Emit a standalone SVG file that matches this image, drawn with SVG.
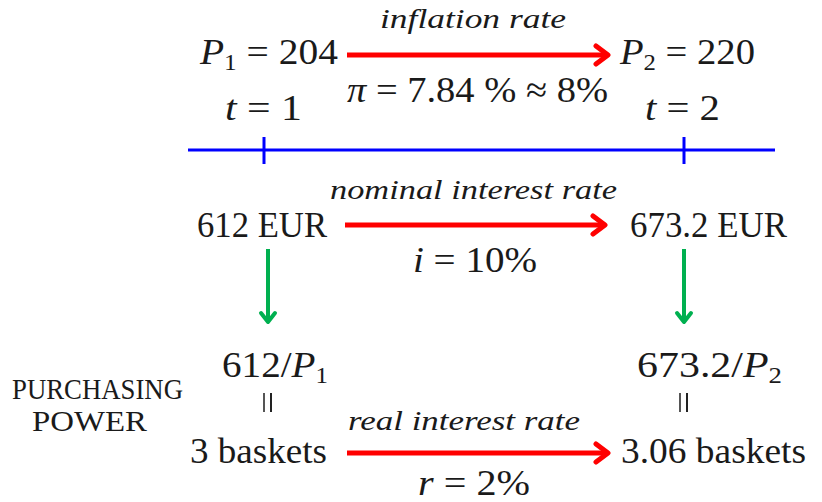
<svg xmlns="http://www.w3.org/2000/svg" width="822" height="502" viewBox="0 0 822 502">
<style>
  .t { font-family: "Liberation Serif", "DejaVu Serif", serif; fill: #1a1a1a; }
  .m { font-size: 36px; }
  .lab { font-size: 28px; font-style: italic; }
  .it { font-style: italic; }
  .sub { font-size: 23px; }
  .side { font-size: 29px; }
  .red { stroke: #FF0000; stroke-width: 5; fill: none; }
  .grn { stroke: #00B050; stroke-width: 4; fill: none; }
  .axis { stroke: #0000FF; stroke-width: 3; fill: none; }
</style>
<defs>
  <marker id="rh" markerUnits="userSpaceOnUse" viewBox="-16 -12 20 24" refX="0" refY="0" markerWidth="20" markerHeight="24" orient="auto">
    <path d="M-12,-9 L0,0 L-12,9" fill="none" stroke="#FF0000" stroke-width="5" stroke-linecap="round" stroke-linejoin="round"/>
  </marker>
  <marker id="gh" markerUnits="userSpaceOnUse" viewBox="-12 -10 16 20" refX="0" refY="0" markerWidth="16" markerHeight="20" orient="auto">
    <path d="M-9,-7 L0,0 L-9,7" fill="none" stroke="#00B050" stroke-width="4" stroke-linecap="round" stroke-linejoin="round"/>
  </marker>
</defs>

<g id="timeline">
  <line class="axis" x1="188" y1="150" x2="775" y2="150"/>
  <line class="axis" x1="264" y1="137" x2="264" y2="164"/>
  <line class="axis" x1="684" y1="137" x2="684" y2="164"/>
</g>

<g id="connectors">
  <line class="red" x1="347" y1="55" x2="608" y2="55" marker-end="url(#rh)"/>
  <line class="red" x1="345" y1="225" x2="605" y2="225" marker-end="url(#rh)"/>
  <line class="red" x1="347" y1="453" x2="608" y2="453" marker-end="url(#rh)"/>
  <line class="grn" x1="268" y1="249" x2="268" y2="322" marker-end="url(#gh)"/>
  <line class="grn" x1="684" y1="249" x2="684" y2="322" marker-end="url(#gh)"/>
</g>

<g id="p1">
  <text class="t m" x="200" y="64" textLength="138" lengthAdjust="spacingAndGlyphs"><tspan class="it">P</tspan><tspan class="sub" dy="6">1</tspan><tspan dy="-6"> = 204</tspan></text>
  <text class="t m" x="225" y="120" textLength="77" lengthAdjust="spacingAndGlyphs"><tspan class="it">t</tspan> = 1</text>
</g>
<g id="p2">
  <text class="t m" x="620" y="64" textLength="135" lengthAdjust="spacingAndGlyphs"><tspan class="it">P</tspan><tspan class="sub" dy="6">2</tspan><tspan dy="-6"> = 220</tspan></text>
  <text class="t m" x="645" y="120" textLength="75" lengthAdjust="spacingAndGlyphs"><tspan class="it">t</tspan> = 2</text>
</g>
<g id="inflation">
  <text class="t lab" x="380" y="28" textLength="186" lengthAdjust="spacingAndGlyphs">inflation rate</text>
  <text class="t m" x="347" y="102" textLength="261" lengthAdjust="spacingAndGlyphs"><tspan class="it">π</tspan> = 7.84 % ≈ 8%</text>
</g>

<g id="eur1">
  <text class="t m" x="197" y="237" textLength="130" lengthAdjust="spacingAndGlyphs">612 EUR</text>
</g>
<g id="eur2">
  <text class="t m" x="630" y="237" textLength="157" lengthAdjust="spacingAndGlyphs">673.2 EUR</text>
</g>
<g id="nominal">
  <text class="t lab" x="330" y="199" textLength="287" lengthAdjust="spacingAndGlyphs">nominal interest rate</text>
  <text class="t m" x="413" y="272" textLength="124" lengthAdjust="spacingAndGlyphs"><tspan class="it">i</tspan> = 10%</text>
</g>

<g id="pp-label">
  <text class="t side" x="12" y="399" textLength="171" lengthAdjust="spacingAndGlyphs">PURCHASING</text>
  <text class="t side" x="32" y="431" textLength="115" lengthAdjust="spacingAndGlyphs">POWER</text>
</g>

<g id="pp1">
  <text class="t m" x="222" y="377" textLength="106" lengthAdjust="spacingAndGlyphs">612/<tspan class="it">P</tspan><tspan class="sub" dy="6">1</tspan></text>
  <line x1="264" y1="393" x2="264" y2="412" stroke="#555" stroke-width="2"/>
  <line x1="271" y1="393" x2="271" y2="412" stroke="#222" stroke-width="2"/>
  <text class="t m" x="190" y="463" textLength="137" lengthAdjust="spacingAndGlyphs">3 baskets</text>
</g>
<g id="pp2">
  <text class="t m" x="637" y="377" textLength="145" lengthAdjust="spacingAndGlyphs">673.2/<tspan class="it">P</tspan><tspan class="sub" dy="6">2</tspan></text>
  <line x1="680" y1="393" x2="680" y2="412" stroke="#555" stroke-width="2"/>
  <line x1="687" y1="393" x2="687" y2="412" stroke="#222" stroke-width="2"/>
  <text class="t m" x="621" y="463" textLength="185" lengthAdjust="spacingAndGlyphs">3.06 baskets</text>
</g>
<g id="real">
  <text class="t lab" x="348" y="430" textLength="232" lengthAdjust="spacingAndGlyphs">real interest rate</text>
  <text class="t m" x="418" y="495" textLength="112" lengthAdjust="spacingAndGlyphs"><tspan class="it">r</tspan> = 2%</text>
</g>
</svg>
